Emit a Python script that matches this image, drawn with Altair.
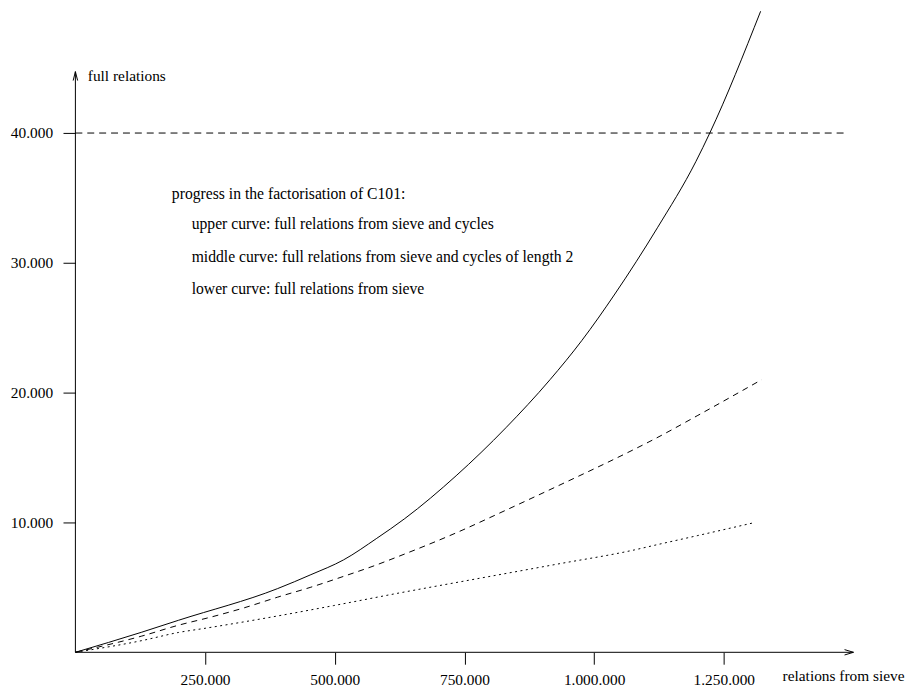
import altair as alt
import pandas as pd

# ---- data ----
upper_x = [0, 128000, 199000, 390000, 454000, 517000, 581000, 635000, 734000, 830000,
           915000, 976000, 1040000, 1122000, 1196000, 1223000, 1321000]
upper_y = [0, 1550, 2470, 4910, 5980, 7120, 8780, 10300, 13600, 17300,
           21000, 24000, 27600, 32700, 37790, 40000, 49380]

middle_x = [0, 128000, 199000, 262000, 326000, 390000, 454000, 517000, 581000, 620000,
            734000, 830000, 925000, 1078000, 1116000, 1200000, 1323000]
middle_y = [0, 1250, 2090, 2720, 3435, 4250, 5015, 5850, 6740, 7340,
            9200, 10950, 12720, 15650, 16420, 18250, 21000]

lower_x = [0, 128000, 199000, 250000, 390000, 498000, 619000, 772000, 930000, 1078000,
           1116000, 1200000, 1310000]
lower_y = [0, 900, 1530, 1850, 2800, 3600, 4530, 5650, 6800, 7890,
           8240, 8995, 10000]

x_tick_values = [250000, 500000, 750000, 1000000, 1250000]
x_tick_labels = ["250.000", "500.000", "750.000", "1.000.000", "1.250.000"]
y_tick_values = [10000, 20000, 30000, 40000]
y_tick_labels = ["10.000", "20.000", "30.000", "40.000"]

threshold = 40000
x_axis_end = 1500000
y_axis_end = 44730
threshold_end = 1490000

x_title = "relations from sieve"
y_title = "full relations"
legend_lines = [
    "progress in the factorisation of C101:",
    "upper curve: full relations from sieve and cycles",
    "middle curve: full relations from sieve and cycles of length 2",
    "lower curve: full relations from sieve",
]

FONT = "Liberation Serif"
FS = 15.8
FS_AXIS = 15.5

def label_expr(values, labels):
    parts = [f"datum.value == {v} ? '{l}'" for v, l in zip(values, labels)]
    return " : ".join(parts) + " : ''"

df = pd.concat([
    pd.DataFrame({"x": upper_x, "y": upper_y, "series": "upper"}),
    pd.DataFrame({"x": middle_x, "y": middle_y, "series": "middle"}),
    pd.DataFrame({"x": lower_x, "y": lower_y, "series": "lower"}),
], ignore_index=True)

x_scale = alt.Scale(domain=[0, x_axis_end], nice=False, zero=False)
y_scale = alt.Scale(domain=[0, 49400], nice=False, zero=False)

x_axis = alt.Axis(
    values=x_tick_values, labelExpr=label_expr(x_tick_values, x_tick_labels),
    domain=False, grid=False, ticks=True, tickSize=12, tickColor="black", tickWidth=1,
    labelFont=FONT, labelFontSize=FS_AXIS, labelColor="black", labelBaseline="alphabetic",
    labelPadding=20, labelFlush=False, labelOverlap=False,
    title=x_title, titleFont=FONT, titleFontSize=FS_AXIS, titleFontWeight="normal",
    titleColor="black", titleAngle=0, titleX=713, titleY=28.3, titleAlign="left",
    titleBaseline="alphabetic",
)
y_axis = alt.Axis(
    values=y_tick_values, labelExpr=label_expr(y_tick_values, y_tick_labels),
    domain=False, grid=False, ticks=True, tickSize=12.5, tickColor="black", tickWidth=1,
    labelFont=FONT, labelFontSize=FS_AXIS, labelColor="black", labelBaseline="middle",
    labelPadding=10.5, labelFlush=False, labelOverlap=False,
    title=y_title, titleFont=FONT, titleFontSize=FS_AXIS, titleFontWeight="normal",
    titleColor="black", titleAngle=0, titleX=12, titleY=70.5, titleAlign="left",
    titleBaseline="alphabetic",
)

def X(field):
    return alt.X(field, type="quantitative", scale=x_scale, axis=x_axis)

def Y(field):
    return alt.Y(field, type="quantitative", scale=y_scale, axis=y_axis)

base = alt.Chart(df)

upper = base.transform_filter(alt.datum.series == "upper").mark_line(
    color="black", strokeWidth=1, interpolate="monotone", clip=True
).encode(x=X("x"), y=Y("y"))
middle = base.transform_filter(alt.datum.series == "middle").mark_line(
    color="black", strokeWidth=1, interpolate="monotone", strokeDash=[6, 5]
).encode(x=X("x"), y=Y("y"))
lower = base.transform_filter(alt.datum.series == "lower").mark_line(
    color="black", strokeWidth=1, interpolate="monotone", strokeDash=[2, 3.5]
).encode(x=X("x"), y=Y("y"))

thr = alt.Chart(pd.DataFrame({"x": [0], "x2": [threshold_end], "y": [threshold]})).mark_rule(
    color="black", strokeWidth=1, strokeDash=[7, 5]
).encode(x=X("x"), x2="x2:Q", y=Y("y"))

x_line = alt.Chart(pd.DataFrame({"x": [0], "x2": [x_axis_end], "y": [0]})).mark_rule(
    color="black", strokeWidth=1
).encode(x=X("x"), x2="x2:Q", y=Y("y"))
y_line = alt.Chart(pd.DataFrame({"x": [0], "y": [0], "y2": [y_axis_end]})).mark_rule(
    color="black", strokeWidth=1
).encode(x=X("x"), y=Y("y"), y2="y2:Q")

x_arrow = alt.Chart(pd.DataFrame({"x": [x_axis_end], "y": [0]})).mark_point(
    shape="M -1 -0.3 L 0 0 L -1 0.3", size=324, filled=False,
    stroke="black", strokeWidth=1, opacity=1
).encode(x=X("x"), y=Y("y"))
y_arrow = alt.Chart(pd.DataFrame({"x": [0], "y": [y_axis_end]})).mark_point(
    shape="M -0.25 1 L 0 0 L 0.25 1", size=324, filled=False,
    stroke="black", strokeWidth=1, opacity=1
).encode(x=X("x"), y=Y("y"))

legend_x = [97.3, 117.3, 117.3, 117.3]
legend_y = [189.5, 220.3, 253.7, 285.3]
legend_layers = []
for txt, lx, ly in zip(legend_lines, legend_x, legend_y):
    legend_layers.append(
        alt.Chart(pd.DataFrame({"t": [txt]})).mark_text(
            font=FONT, fontSize=FS, color="black", align="left", baseline="alphabetic"
        ).encode(x=alt.value(lx), y=alt.value(ly), text="t:N")
    )

chart = alt.layer(
    upper, thr, x_line, y_line, x_arrow, y_arrow, lower, middle, *legend_layers
).properties(
    width=785, height=647,
    autosize=alt.AutoSizeParams(type="none"),
    padding={"left": 68, "top": 0, "right": 54, "bottom": 35},
).configure_view(strokeWidth=0)

chart.save("out.html", embed_options={"renderer": "svg", "actions": False})
